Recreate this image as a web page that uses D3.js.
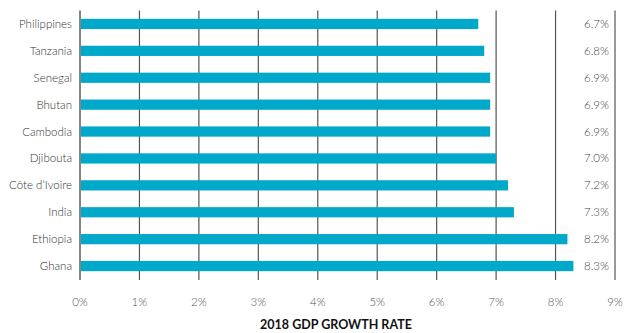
<!DOCTYPE html>
<html>
<head>
<meta charset="utf-8">
<script src="https://cdn.jsdelivr.net/npm/d3@7"></script>
<style>
  body { margin: 0; background: #fff; }
  svg { display: block; font-family: 'Lato', sans-serif; }
</style>
</head>
<body>
<script>
const countries = ['Philippines', 'Tanzania', 'Senegal', 'Bhutan', 'Cambodia', 'Djibouta', 'Côte d\u2019Ivoire', 'India', 'Ethiopia', 'Ghana'];
const growth = [6.7, 6.8, 6.9, 6.9, 6.9, 7.0, 7.2, 7.3, 8.2, 8.3];
const ticks = [0, 1, 2, 3, 4, 5, 6, 7, 8, 9];
const axisTitle = '2018 GDP GROWTH RATE';

const width = 624, height = 333;
const svg = d3.select('body').append('svg').attr('width', width).attr('height', height);

const x = d3.scaleLinear().domain([0, 9]).range([80, 615]);
const y = d3.scaleBand().domain(countries).range([10.5, 279.5]).paddingInner(0.62).paddingOuter(0.31);

// gridlines
svg.append('g').selectAll('line').data(ticks).join('line')
  .attr('x1', d => x(d)).attr('x2', d => x(d))
  .attr('y1', 10.5).attr('y2', 280)
  .attr('stroke', d => d === 0 ? '#333' : '#555')
  .attr('stroke-width', 1.2);

// bars
svg.append('g').selectAll('rect').data(countries).join('rect')
  .attr('x', x(0) + 1)
  .attr('y', d => y(d))
  .attr('width', (d, i) => x(growth[i]) - x(0) - 1)
  .attr('height', y.bandwidth())
  .attr('fill', '#00a9c9');

// country labels
svg.append('g').selectAll('text').data(countries).join('text')
  .attr('x', 72)
  .attr('y', d => y(d) + y.bandwidth() / 2)
  .attr('dy', '0.35em')
  .attr('text-anchor', 'end')
  .attr('font-size', 11.5)
  .attr('font-weight', 300)
  .attr('fill', '#333')
  .text(d => d);

// value labels
svg.append('g').selectAll('text').data(countries).join('text')
  .attr('x', 609)
  .attr('y', d => y(d) + y.bandwidth() / 2)
  .attr('dy', '0.35em')
  .attr('text-anchor', 'end')
  .attr('font-size', 11.5)
  .attr('font-weight', 300)
  .attr('fill', '#444')
  .text((d, i) => growth[i].toFixed(1) + '%');

// x tick labels
svg.append('g').selectAll('text').data(ticks).join('text')
  .attr('x', d => x(d))
  .attr('y', 302)
  .attr('dy', '0.35em')
  .attr('text-anchor', 'middle')
  .attr('font-size', 11.5)
  .attr('font-weight', 300)
  .attr('fill', '#555')
  .text(d => d + '%');

svg.append('text')
  .attr('x', 336).attr('y', 325)
  .attr('dy', '0.35em')
  .attr('text-anchor', 'middle')
  .attr('font-size', 12.5)
  .attr('font-weight', 'bold')
  .attr('fill', '#111')
  .text(axisTitle);
</script>
</body>
</html>
